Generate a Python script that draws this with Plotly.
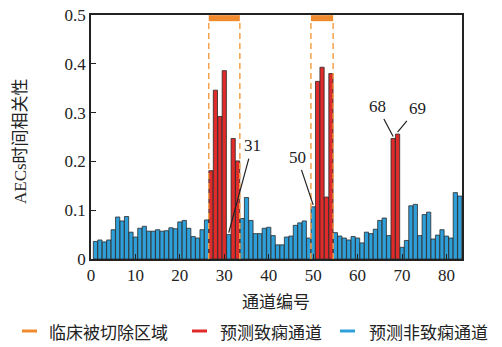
import plotly.graph_objects as go

channels = list(range(1, 84))
values = [0.036, 0.039, 0.035, 0.039, 0.060, 0.086, 0.078, 0.087, 0.055, 0.045,
          0.063, 0.067, 0.057, 0.057, 0.060, 0.057, 0.058, 0.064, 0.062, 0.076,
          0.079, 0.063, 0.046, 0.043, 0.060, 0.080, 0.181, 0.346, 0.292, 0.386,
          0.050, 0.247, 0.201, 0.083, 0.126, 0.079, 0.052, 0.052, 0.063, 0.065,
          0.048, 0.029, 0.029, 0.045, 0.047, 0.069, 0.074, 0.078, 0.043, 0.107,
          0.364, 0.393, 0.127, 0.380, 0.054, 0.047, 0.043, 0.039, 0.046, 0.043,
          0.033, 0.055, 0.052, 0.061, 0.079, 0.084, 0.048, 0.247, 0.256, 0.024,
          0.038, 0.109, 0.112, 0.048, 0.091, 0.096, 0.041, 0.049, 0.060, 0.047,
          0.043, 0.136, 0.129]
epileptic = [27, 28, 29, 30, 32, 33, 51, 52, 53, 54, 68, 69]
resected_regions = [(26.5, 33.5), (49.5, 54.5)]
annotated = [31, 50, 68, 69]
label_pos = {31: (36.3, 0.232), 50: (46.4, 0.209), 68: (64.4, 0.313), 69: (73.4, 0.309)}

x_ticks = [0, 10, 20, 30, 40, 50, 60, 70, 80]
y_ticks = [0, 0.1, 0.2, 0.3, 0.4, 0.5]
y_ticktext = ["0", "0.1", "0.2", "0.3", "0.4", "0.5"]
x_title = "通道编号"
y_title = "AECs时间相关性"
legend_names = ["临床被切除区域", "预测致痫通道", "预测非致痫通道"]

c_orange = "#F08A2E"
c_dash = "#F5A04A"
c_red = "#E02B2B"
c_blue = "#2E9FD9"
c_text = "#222"

fig = go.Figure()

red_x = [c for c in channels if c in epileptic]
red_y = [values[c - 1] for c in red_x]
blue_x = [c for c in channels if c not in epileptic]
blue_y = [values[c - 1] for c in blue_x]

fig.add_trace(go.Bar(x=blue_x, y=blue_y, marker=dict(color=c_blue, line=dict(color="#2a2a2a", width=0.8)),
                     width=0.95, showlegend=False))
fig.add_trace(go.Bar(x=red_x, y=red_y, marker=dict(color=c_red, line=dict(color="#2a2a2a", width=0.8)),
                     width=0.95, showlegend=False))

for (a, b) in resected_regions:
    for xv in (a, b):
        fig.add_trace(go.Scatter(x=[xv, xv], y=[0, 0.488], mode="lines",
                                 line=dict(color=c_dash, width=1.5, dash="6px,4px"),
                                 showlegend=False, hoverinfo="skip"))
    fig.add_trace(go.Scatter(x=[a, b], y=[0.4935, 0.4935], mode="lines",
                             line=dict(color=c_orange, width=6),
                             showlegend=False, hoverinfo="skip", cliponaxis=False))

for ch in annotated:
    tx, ty = label_pos[ch]
    fig.add_annotation(x=ch, y=values[ch - 1] + 0.004, ax=tx, ay=ty, axref="x", ayref="y",
                       text=str(ch), showarrow=True, arrowhead=0, arrowwidth=1.2,
                       arrowcolor=c_text, font=dict(size=17, color=c_text),
                       standoff=0, startstandoff=2)

# page offset (body margin) of 8 px; target plot area on screen: 91..462 x 15..259
OFF = 8
W, H = 502, 347
L, R, T, B = 91, 462, 15, 259
def px(xp):
    return (xp - L) / (R - L)
def py(yp):
    return (B - yp) / (B - T)

cjk = "Noto Sans CJK SC"
fig.add_annotation(xref="paper", yref="paper", x=px(276), y=py(300), text=x_title,
                   showarrow=False, font=dict(family=cjk, size=17, color=c_text),
                   xanchor="center", yanchor="middle")
fig.add_annotation(xref="paper", yref="paper", x=px(20), y=py(141), text=y_title,
                   showarrow=False, textangle=-90,
                   font=dict(family="Liberation Serif, " + cjk, size=17, color=c_text),
                   xanchor="center", yanchor="middle")

# manual legend
leg_y = 331
leg_items = [(22, 37, 47), (192, 207, 218), (340, 355, 367)]
for name, col, (x0, x1, xt) in zip(legend_names, [c_orange, c_red, c_blue], leg_items):
    fig.add_shape(type="line", xref="paper", yref="paper", x0=px(x0), x1=px(x1),
                  y0=py(leg_y), y1=py(leg_y), line=dict(color=col, width=3))
    fig.add_annotation(xref="paper", yref="paper", x=px(xt), y=py(leg_y), text=name,
                       showarrow=False, font=dict(family=cjk, size=17, color=c_text),
                       xanchor="left", yanchor="middle")

fig.update_layout(
    width=W, height=H,
    margin=dict(l=L - OFF, r=W - R + OFF, t=T - OFF, b=H - B + OFF, autoexpand=False),
    plot_bgcolor="white", paper_bgcolor="white",
    font=dict(family="Liberation Serif, Noto Sans CJK SC", size=17, color=c_text),
    bargap=0.05,
    barmode="overlay",
    showlegend=False,
)
fig.update_xaxes(range=[0, 83.5], tickvals=x_ticks, automargin=False, ticklabeloverflow="allow",
                 ticks="inside", ticklen=5, tickcolor=c_text, showline=True, linecolor=c_text,
                 linewidth=1.5, mirror=True, showgrid=False, zeroline=False)
fig.update_yaxes(range=[0, 0.5], tickvals=y_ticks, ticktext=y_ticktext, automargin=False,
                 ticklabeloverflow="allow",
                 ticks="inside", ticklen=5, tickcolor=c_text, showline=True, linecolor=c_text,
                 linewidth=1.5, mirror=True, showgrid=False, zeroline=False)

fig.write_html("out.html")
